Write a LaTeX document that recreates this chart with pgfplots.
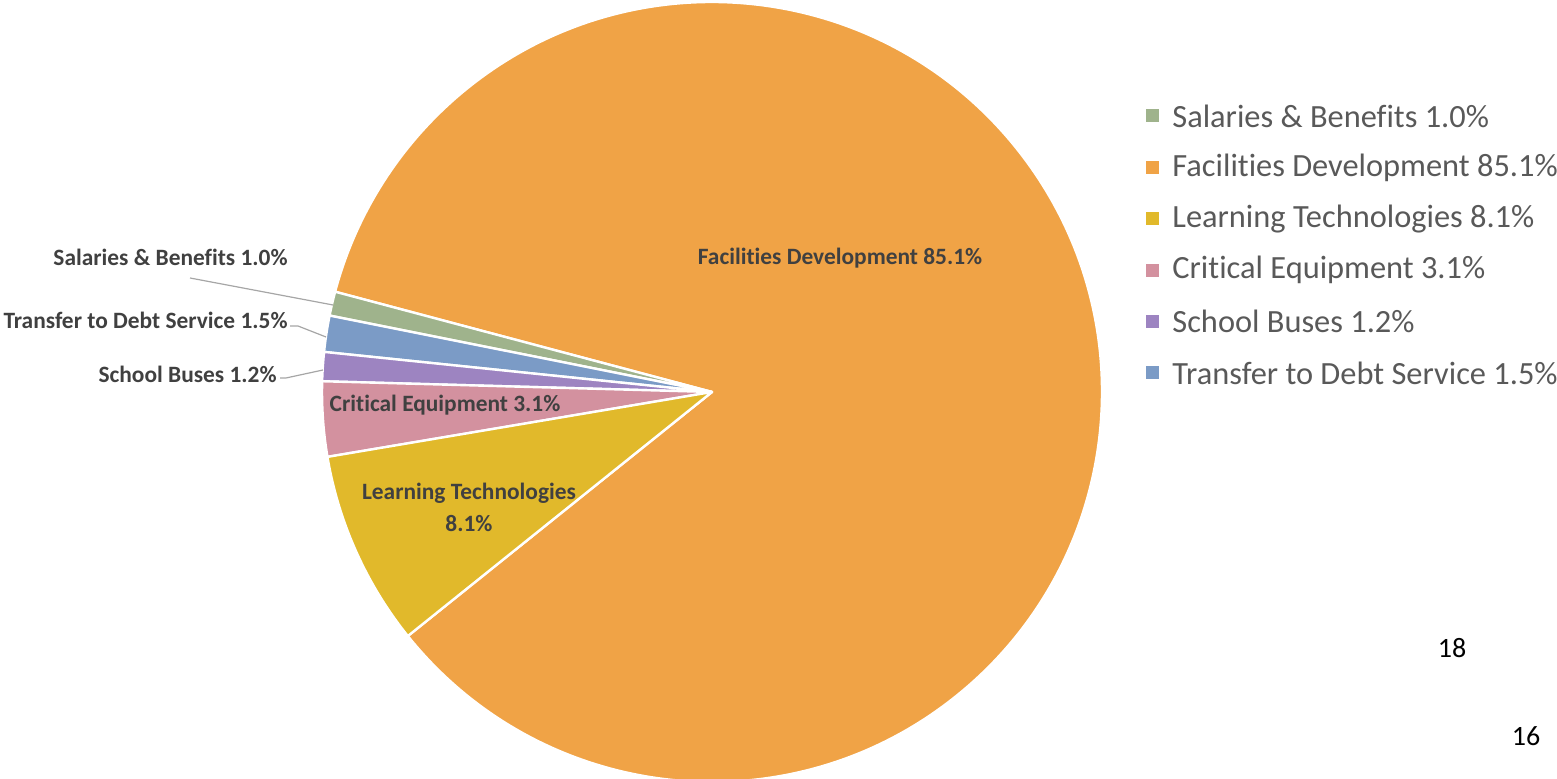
\documentclass[border=0pt]{standalone}
\usepackage{pgfplots}
\pgfplotsset{compat=1.18}
\usepackage{pgfplotstable}
\usepackage{fontspec}
\setmainfont[Ligatures={NoCommon}]{Carlito}

\definecolor{pc0}{HTML}{F0A346}% Facilities Development
\definecolor{pc1}{HTML}{9FB38C}% Salaries & Benefits
\definecolor{pc2}{HTML}{7B9BC6}% Transfer to Debt Service
\definecolor{pc3}{HTML}{9D84C1}% School Buses
\definecolor{pc4}{HTML}{D3919F}% Critical Equipment
\definecolor{pc5}{HTML}{E1B92B}% Learning Technologies
\definecolor{lbl}{HTML}{404040}
\definecolor{leg}{HTML}{595959}
\definecolor{lead}{HTML}{A6A6A6}

% slices, counter-clockwise from the lower-left edge of Facilities Development
\pgfplotstableread{
name value
Facilities 85.1
Salaries 1.0
Transfer 1.5
Buses 1.2
Critical 3.1
Learning 8.1
}\piedata

\begin{document}
\begin{tikzpicture}
\pgfplotstablegetrowsof{\piedata}
\pgfmathtruncatemacro\lastrow{\pgfplotsretval-1}
\xdef\cum{-141.26}
\foreach \i in {0,...,\lastrow}{
  \pgfplotstablegetelem{\i}{value}\of\piedata
  \pgfmathsetmacro\b{\cum+3.6*\pgfplotsretval}
  \expandafter\xdef\csname pa\i\endcsname{\cum}
  \expandafter\xdef\csname pb\i\endcsname{\b}
  \xdef\cum{\b}
}
\begin{axis}[at={(0,0)}, anchor=south west, scale only axis,
  width=778.5pt, height=389.5pt,
  xmin=0, xmax=1557, ymin=0, ymax=779,
  hide axis, clip=false]
\pgfplotsinvokeforeach{0,...,5}{
  \filldraw[fill=pc#1, draw=white, line width=1.2pt, line join=round]
    (axis cs:712,387) -- ++(\csname pa#1\endcsname:195pt)
    arc[start angle=\csname pa#1\endcsname, end angle=\csname pb#1\endcsname, radius=195pt] -- cycle;
}
% leader lines
\draw[lead, line width=0.6pt] (axis cs:190,501) -- (axis cs:333,474);
\draw[lead, line width=0.6pt] (axis cs:290,453) -- (axis cs:298,453) -- (axis cs:326,442);
\draw[lead, line width=0.6pt] (axis cs:280,401) -- (axis cs:286,401) -- (axis cs:323,409);
% data labels
\begin{scope}[every node/.style={font=\bfseries\fontsize{11.7}{15}\selectfont, text=lbl, inner sep=0pt}]
\node at (axis cs:840,521) {Facilities Development 85.1\%};
\node[anchor=east] at (axis cs:288,522) {Salaries \& Benefits 1.0\%};
\node[anchor=east] at (axis cs:288,459) {Transfer to Debt Service 1.5\%};
\node[anchor=east] at (axis cs:277,405) {School Buses 1.2\%};
\node at (axis cs:445,374) {Critical Equipment 3.1\%};
\node[align=center] at (axis cs:469,272) {Learning Technologies\\[1pt]8.1\%};
\end{scope}
% legend
\begin{scope}[every node/.style={font=\fontsize{16.2}{19}\selectfont, text=leg, inner sep=0pt, anchor=west}]
\fill[pc1] (axis cs:1146,656.5) rectangle (axis cs:1159,669.5);
\node at (axis cs:1172,663) {Salaries \& Benefits 1.0\%};
\fill[pc0] (axis cs:1146,605) rectangle (axis cs:1159,618);
\node at (axis cs:1172,611.6) {Facilities Development 85.1\%};
\fill[pc5] (axis cs:1146,553.7) rectangle (axis cs:1159,566.7);
\node at (axis cs:1172,560.2) {Learning Technologies 8.1\%};
\fill[pc4] (axis cs:1146,502.3) rectangle (axis cs:1159,515.3);
\node at (axis cs:1172,508.8) {Critical Equipment 3.1\%};
\fill[pc3] (axis cs:1146,450.9) rectangle (axis cs:1159,463.9);
\node at (axis cs:1172,457.4) {School Buses 1.2\%};
\fill[pc2] (axis cs:1146,399.5) rectangle (axis cs:1159,412.5);
\node at (axis cs:1172,406) {Transfer to Debt Service 1.5\%};
\end{scope}
% page numbers
\node[font=\fontsize{14}{17}\selectfont, text=black] at (axis cs:1452,131) {18};
\node[font=\fontsize{14}{17}\selectfont, text=black] at (axis cs:1526,43) {16};
\end{axis}
\pgfresetboundingbox
\path[use as bounding box] (0,0) rectangle (778.5pt,389.5pt);
\end{tikzpicture}
\end{document}
